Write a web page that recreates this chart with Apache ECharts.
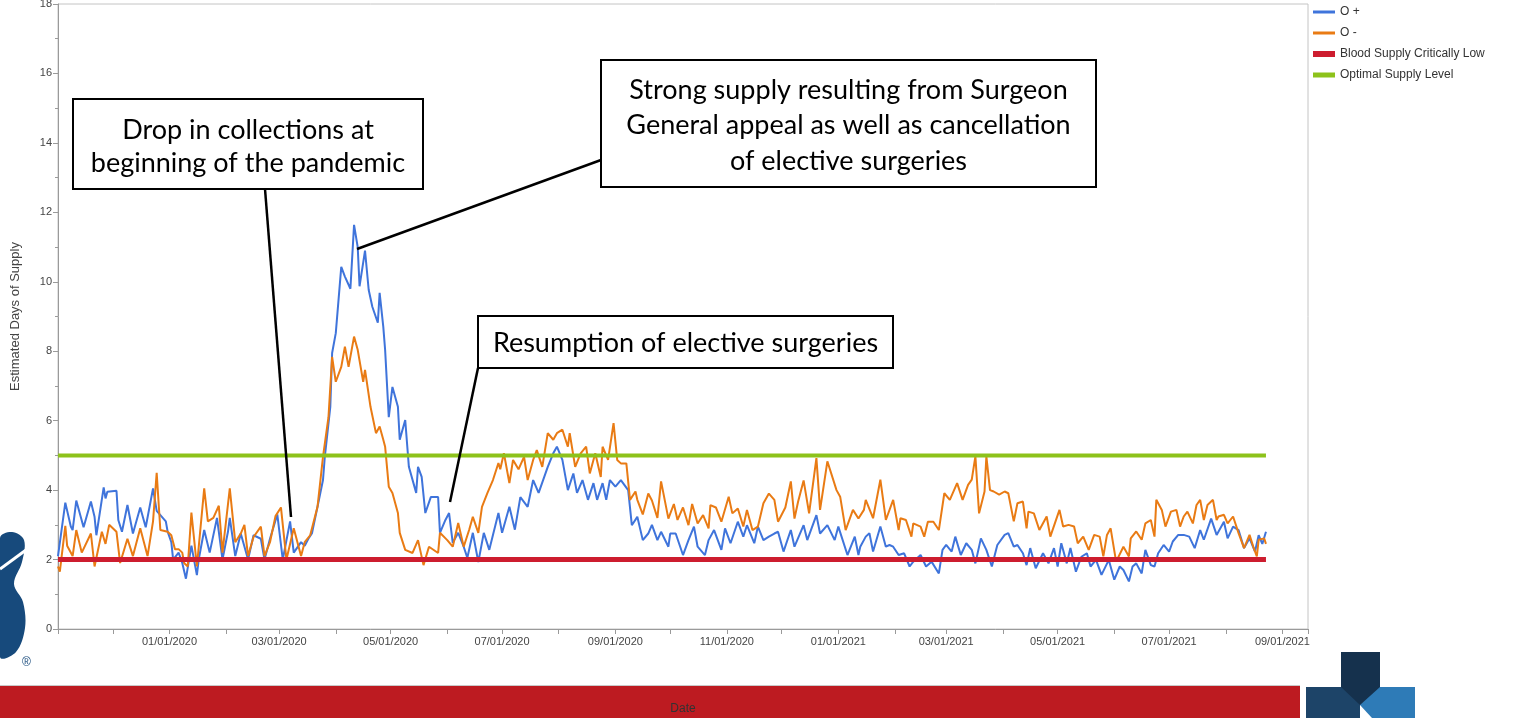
<!DOCTYPE html>
<html><head><meta charset="utf-8">
<script src="https://cdn.jsdelivr.net/npm/echarts@6/dist/echarts.min.js"></script>
<style>html,body{margin:0;padding:0;background:#fff}#c{width:1521px;height:718px}</style>
</head><body><div id="c"></div>
<script>
// ---- data ----
// day offsets from the start date (Nov 1 2019) paired with estimated days of supply
const startDate = [2019, 10, 1];
const endDate = [2021, 8, 15];
const seriesNames = ['O +', 'O -', 'Blood Supply Critically Low', 'Optimal Supply Level'];
const oPositive = [[0,2.1],[4,3.64],[7,2.95],[8,2.85],[10,3.7],[14,2.93],[18,3.67],[20,3.23],[21,2.7],[25,4.08],[26,3.76],[27,3.95],[32,3.98],[33,3.14],[35,2.8],[38,3.57],[41,2.75],[45,3.5],[48,2.93],[52,4.05],[54,3.4],[59,3.1],[60,2.8],[62,2.5],[63,2.0],[66,2.2],[68,1.9],[70,1.45],[73,2.4],[76,1.55],[77,2.0],[80,2.85],[83,2.2],[87,3.2],[90,2.0],[93,2.8],[94,3.2],[97,2.1],[100,2.75],[104,2.0],[107,2.7],[111,2.6],[113,2.0],[116,2.6],[120,3.3],[123,2.0],[127,3.1],[129,2.2],[133,2.5],[135,2.4],[137,2.6],[139,2.76],[142,3.52],[145,4.29],[146,4.96],[149,6.4],[150,7.95],[152,8.52],[153,8.55],[155,10.43],[157,10.15],[160,9.8],[162,11.64],[164,11.0],[165,9.87],[168,10.9],[170,9.77],[172,9.28],[175,8.82],[176,9.68],[178,8.7],[179,8.04],[181,6.1],[183,6.97],[186,6.4],[187,5.45],[190,6.02],[192,4.67],[196,3.92],[197,4.67],[199,4.38],[201,3.34],[204,3.8],[208,3.8],[209,2.77],[212,3.14],[214,3.34],[216,2.48],[219,2.77],[222,2.37],[224,2.05],[227,2.77],[230,1.93],[233,2.77],[236,2.28],[241,3.34],[243,2.77],[247,3.52],[250,2.86],[253,3.8],[257,3.52],[260,4.29],[263,3.92],[268,4.67],[271,5.06],[273,5.25],[276,4.87],[279,4.0],[282,4.48],[284,3.92],[287,4.29],[290,3.72],[293,4.2],[295,3.72],[298,4.2],[300,3.72],[302,4.29],[305,4.1],[308,4.29],[312,4.0],[314,2.99],[317,3.23],[320,2.56],[323,2.75],[325,3.0],[328,2.56],[330,2.8],[334,2.37],[335,2.75],[338,2.75],[342,2.13],[345,2.56],[348,2.95],[350,2.37],[354,2.13],[356,2.56],[359,2.85],[363,2.28],[365,2.9],[368,2.47],[372,3.09],[375,2.66],[377,2.99],[381,2.47],[383,2.95],[386,2.56],[389,2.66],[392,2.75],[394,2.8],[397,2.23],[401,2.85],[403,2.37],[408,2.99],[410,2.56],[415,3.28],[417,2.75],[421,2.99],[425,2.56],[427,2.95],[432,2.13],[436,2.66],[438,2.13],[439,2.37],[442,2.66],[444,2.76],[446,2.23],[450,2.95],[453,2.37],[455,2.42],[457,2.37],[460,2.13],[463,2.18],[466,1.8],[468,1.94],[472,2.13],[475,1.8],[478,1.94],[482,1.6],[484,2.28],[486,2.42],[489,2.23],[491,2.66],[494,2.13],[497,2.47],[500,2.28],[502,1.89],[505,2.61],[508,2.28],[511,1.8],[514,2.42],[518,2.71],[520,2.76],[523,2.37],[525,2.42],[528,2.18],[530,1.84],[532,2.33],[535,1.75],[539,2.18],[542,1.89],[545,2.33],[547,1.8],[549,2.47],[552,1.89],[554,2.33],[557,1.65],[560,2.08],[563,2.18],[565,1.8],[568,1.99],[571,1.56],[575,1.99],[578,1.42],[581,1.8],[583,1.7],[586,1.37],[588,1.8],[590,1.89],[593,1.6],[595,2.28],[598,1.84],[600,1.8],[602,2.18],[605,2.42],[608,2.23],[610,2.52],[613,2.71],[616,2.71],[619,2.66],[622,2.33],[625,2.85],[627,2.57],[631,3.18],[634,2.71],[638,3.09],[640,2.61],[643,2.95],[646,2.85],[649,2.33],[652,2.61],[655,2.23],[657,2.7],[659,2.45],[661,2.8]];
const oNegative = [[0,1.8],[1,1.65],[4,2.97],[5,2.4],[8,2.1],[10,2.85],[13,2.2],[18,2.75],[20,1.8],[24,2.8],[26,2.45],[28,3.0],[32,2.8],[34,1.9],[38,2.6],[41,2.1],[45,2.9],[49,2.1],[52,3.1],[54,4.5],[56,2.85],[60,2.8],[62,2.7],[64,2.3],[66,2.3],[68,2.2],[69,1.9],[71,1.8],[73,3.35],[76,1.8],[80,4.05],[82,3.1],[85,3.2],[88,3.55],[90,2.2],[94,4.05],[97,2.5],[100,2.75],[102,3.0],[104,2.1],[107,2.65],[111,2.95],[113,2.1],[116,2.5],[119,3.25],[122,3.5],[125,2.0],[129,2.9],[133,2.1],[135,2.5],[138,2.7],[142,3.52],[145,4.96],[148,6.1],[150,7.84],[152,7.12],[155,7.55],[157,8.13],[159,7.55],[162,8.42],[164,8.04],[167,7.12],[168,7.46],[171,6.4],[174,5.64],[176,5.83],[178,5.45],[179,5.25],[181,4.1],[183,3.92],[186,3.34],[187,2.77],[190,2.28],[194,2.19],[197,2.56],[200,1.84],[203,2.37],[208,2.19],[209,2.77],[213,2.56],[216,2.37],[219,3.05],[222,2.37],[225,2.86],[227,3.23],[230,2.77],[232,3.52],[235,3.92],[238,4.29],[241,4.78],[242,4.6],[244,5.06],[247,4.2],[249,4.87],[252,4.6],[255,4.96],[257,4.29],[260,4.87],[262,5.15],[265,4.67],[268,5.64],[271,5.45],[273,5.64],[276,5.74],[279,5.25],[280,5.64],[283,4.67],[286,5.06],[289,5.25],[291,4.48],[294,5.06],[297,4.38],[298,5.25],[301,4.87],[304,5.93],[306,4.87],[308,4.77],[311,4.77],[313,3.72],[316,3.96],[317,3.72],[320,3.3],[323,3.9],[325,3.7],[328,3.2],[330,4.25],[334,3.18],[337,3.6],[339,3.14],[342,3.5],[345,2.99],[347,3.6],[350,3.04],[353,3.28],[356,2.9],[357,3.57],[360,3.5],[363,3.09],[367,3.81],[369,3.33],[372,3.47],[375,2.95],[377,3.43],[380,2.85],[383,2.95],[386,3.62],[389,3.9],[392,3.72],[394,3.09],[398,3.5],[401,4.25],[403,3.18],[405,3.67],[408,4.28],[411,3.33],[415,4.92],[417,3.43],[421,4.83],[426,4.0],[428,3.81],[431,2.85],[435,3.43],[438,3.18],[441,3.43],[442,3.72],[446,3.19],[450,4.3],[453,3.14],[457,3.72],[460,2.85],[461,3.19],[464,3.14],[467,2.66],[468,3.04],[472,2.95],[474,2.66],[476,3.09],[479,3.09],[482,2.85],[485,3.91],[488,3.72],[492,4.2],[495,3.72],[498,4.15],[500,4.3],[502,4.97],[504,3.33],[507,3.96],[508,4.97],[510,4.0],[512,3.96],[515,3.87],[518,3.96],[520,3.91],[523,3.1],[525,3.62],[528,3.67],[530,2.9],[531,3.38],[534,3.33],[537,2.85],[541,3.24],[543,2.66],[548,3.43],[550,2.95],[553,3.0],[556,2.95],[558,2.47],[561,2.66],[564,2.28],[567,2.71],[570,2.66],[572,2.09],[574,2.71],[576,2.9],[579,1.94],[583,2.37],[586,2.09],[587,2.61],[590,2.81],[593,2.57],[595,3.04],[598,3.14],[600,2.66],[601,3.72],[604,3.43],[606,2.95],[609,3.38],[612,3.43],[614,2.95],[616,3.24],[618,3.38],[621,3.04],[623,3.57],[625,3.72],[627,3.14],[629,3.57],[632,3.72],[634,3.14],[635,3.24],[638,3.29],[640,3.04],[643,3.24],[646,2.76],[649,2.33],[652,2.71],[654,2.38],[656,2.09],[657,2.57],[660,2.61],[661,2.45]];
const criticalLevel = 2;
const optimalLevel = 5;
const levelSpan = [0, 661];
const yRange = [0, 18, 2];
const annotations = [
  'Drop in collections at\nbeginning of the pandemic',
  'Strong supply resulting from Surgeon\nGeneral appeal as well as cancellation\nof elective surgeries',
  'Resumption of elective surgeries'
];

// ---- chart ----
const day = d => new Date(startDate[0], startDate[1], startDate[2] + d).getTime();
const pad = n => (n < 10 ? '0' : '') + n;
const toSeries = arr => arr.map(p => [day(p[0]), p[1]]);
const chart = echarts.init(document.getElementById('c'));
const axisGray = '#9a9a9a';
const lblFont = 'Liberation Sans, Arial, sans-serif';
const colors = ['#3f74db', '#e97b14', '#cd1d2f', '#8dc21b'];

function box(x, y, w, h, text, lh, dy) {
  return {
    type: 'group', z: 50,
    children: [
      { type: 'rect', shape: { x: x, y: y, width: w, height: h }, style: { fill: '#fff', stroke: '#000', lineWidth: 2 } },
      { type: 'text', style: { x: x + w / 2, y: y + h / 2 + dy, text: text, textAlign: 'center', textVerticalAlign: 'middle',
        font: '27px Lato, sans-serif', lineHeight: lh, fill: '#000' } }
    ]
  };
}
function leader(x1, y1, x2, y2) {
  return { type: 'line', z: 49, shape: { x1: x1, y1: y1, x2: x2, y2: y2 }, style: { stroke: '#000', lineWidth: 2.5 } };
}

const option = {
  animation: false,
  backgroundColor: '#fff',
  grid: { left: 58, top: 4, right: 213, bottom: 89, show: true, borderColor: '#c4c4c4', borderWidth: 1,
    outerBoundsMode: 'none', containLabel: false },
  legend: {
    orient: 'vertical', left: 1308, top: 1, itemWidth: 22, itemHeight: 14, itemGap: 9,
    textStyle: { color: '#333', fontSize: 12, fontFamily: lblFont },
    data: [
      { name: seriesNames[0], icon: 'path://M0,0H22V3H0Z' },
      { name: seriesNames[1], icon: 'path://M0,0H22V3H0Z' },
      { name: seriesNames[2], icon: 'path://M0,0H22V6H0Z' },
      { name: seriesNames[3], icon: 'path://M0,0H22V5H0Z' }
    ]
  },
  xAxis: {
    type: 'time', min: day(0), max: new Date(endDate[0], endDate[1], endDate[2]).getTime(),
    splitNumber: 24, minInterval: 28 * 864e5, maxInterval: 31 * 864e5,
    axisLine: { lineStyle: { color: axisGray } },
    axisTick: { show: true, length: 5, lineStyle: { color: axisGray } },
    splitLine: { show: false },
    axisLabel: {
      color: '#444', fontSize: 11, fontFamily: lblFont, margin: 7, hideOverlap: false, showMinLabel: true, showMaxLabel: true,
      formatter: v => {
        const d = new Date(v);
        if (d.getDate() !== 1 || d.getMonth() % 2 !== 0 || d.getFullYear() < 2020) return '';
        return pad(d.getMonth() + 1) + '/01/' + d.getFullYear();
      }
    },
    name: 'Date', nameLocation: 'middle', nameGap: 74,
    nameTextStyle: { color: '#333', fontSize: 12, fontFamily: lblFont }
  },
  yAxis: {
    type: 'value', min: yRange[0], max: yRange[1], interval: yRange[2],
    axisLine: { show: true, lineStyle: { color: axisGray } },
    axisTick: { show: true, length: 5, lineStyle: { color: axisGray } },
    minorTick: { show: true, splitNumber: 2, length: 3, lineStyle: { color: axisGray } },
    splitLine: { show: false },
    axisLabel: { color: '#444', fontSize: 11, fontFamily: lblFont, margin: 6 },
    name: 'Estimated Days of Supply', nameLocation: 'middle', nameGap: 36,
    nameTextStyle: { color: '#444', fontSize: 13, fontFamily: lblFont }
  },
  series: [
    { name: seriesNames[0], type: 'line', data: toSeries(oPositive), symbol: 'none', z: 3,
      lineStyle: { color: colors[0], width: 2 }, itemStyle: { color: colors[0] } },
    { name: seriesNames[1], type: 'line', data: toSeries(oNegative), symbol: 'none', z: 4,
      lineStyle: { color: colors[1], width: 2 }, itemStyle: { color: colors[1] } },
    { name: seriesNames[2], type: 'line', data: [[day(levelSpan[0]), criticalLevel], [day(levelSpan[1]), criticalLevel]], symbol: 'none', z: 5,
      lineStyle: { color: colors[2], width: 5 }, itemStyle: { color: colors[2] } },
    { name: seriesNames[3], type: 'line', data: [[day(levelSpan[0]), optimalLevel], [day(levelSpan[1]), optimalLevel]], symbol: 'none', z: 5,
      lineStyle: { color: colors[3], width: 4 }, itemStyle: { color: colors[3] } }
  ],
  graphic: [
    { type: 'rect', z: -10, shape: { x: 0, y: 686, width: 1300, height: 32 }, style: { fill: '#bd1b21' } },
    { type: 'line', z: -10, shape: { x1: 0, y1: 685.5, x2: 1300, y2: 685.5 }, style: { stroke: '#c9c9c9', lineWidth: 1 } },
    // right logo
    { type: 'polygon', shape: { points: [[1306,687],[1360,687],[1360,718],[1306,718]] }, style: { fill: '#1d4468' } },
    { type: 'polygon', shape: { points: [[1360,687],[1415,687],[1415,718],[1372,718],[1360,705]] }, style: { fill: '#2e7bb7' } },
    { type: 'polygon', shape: { points: [[1341,652],[1380,652],[1380,687],[1360,705],[1341,687]] }, style: { fill: '#15314d' } },
    // left logo
    { type: 'polygon', shape: { smooth: 0.35, points: [[0,538],[12,532],[24,540],[22,562],[14,584],[23,602],[25,628],[16,652],[0,657]] }, style: { fill: '#174a7c' } },
    { type: 'line', shape: { x1: 0, y1: 569, x2: 26, y2: 550 }, style: { stroke: '#fff', lineWidth: 3 } },
    { type: 'text', style: { x: 22, y: 657, text: '®', font: '12px Liberation Sans, sans-serif', fill: '#174a7c' } },
    // annotations
    leader(265, 189, 291, 517),
    leader(601, 160, 357, 249),
    leader(478, 368, 450, 502),
    box(73, 99, 350, 90, annotations[0], 33, 3),
    box(601, 60, 495, 127, annotations[1], 35.5, 2),
    box(478, 316, 415, 52, annotations[2], 30, 1)
  ]
};
chart.setOption(option);
</script>
</body></html>
